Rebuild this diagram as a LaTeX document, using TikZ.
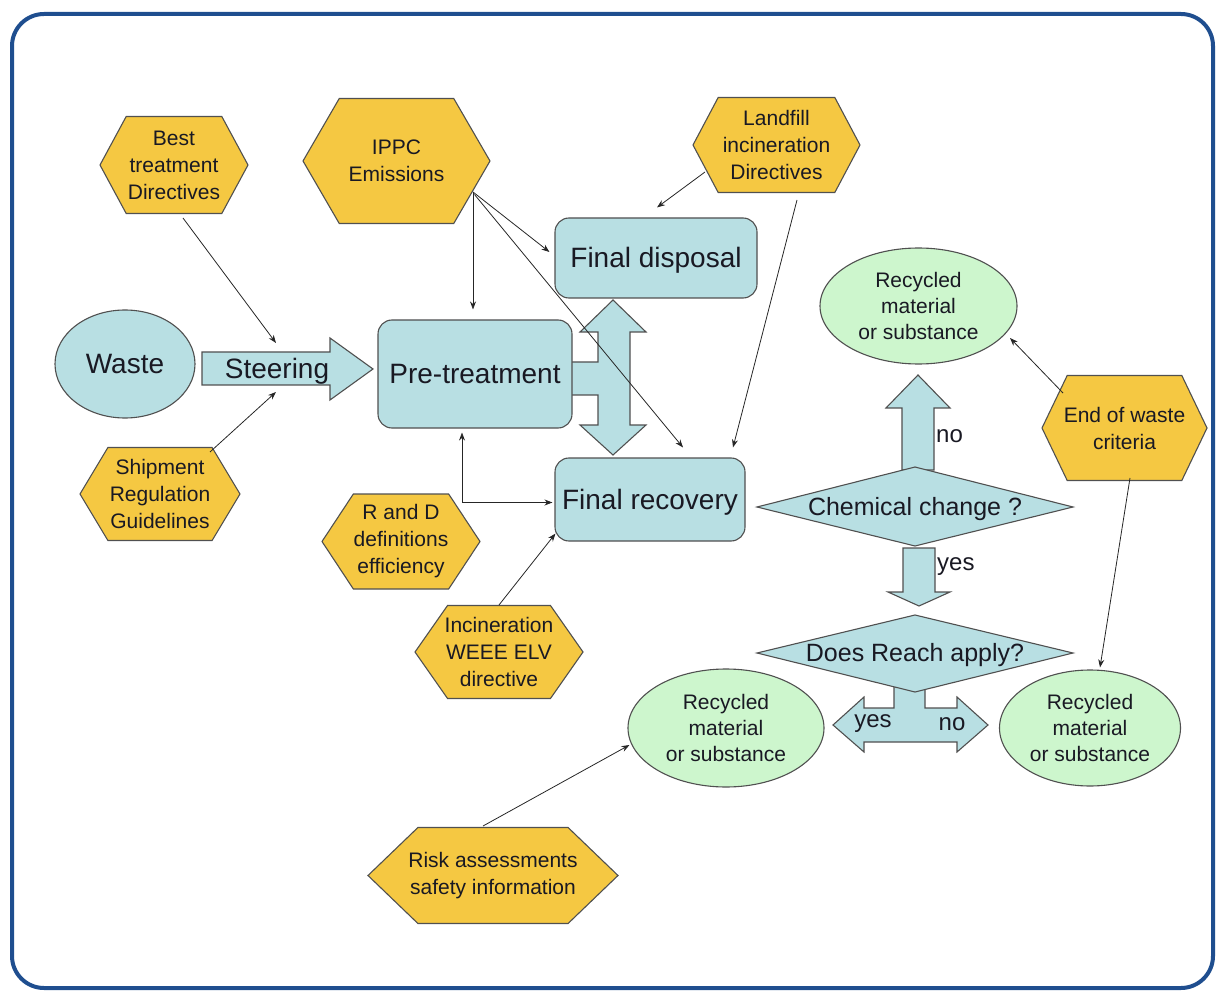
\documentclass[tikz,border=0pt]{standalone}
\usepackage{fontspec}
\setmainfont{Liberation Sans}
\usetikzlibrary{calc,arrows.meta,shapes.geometric}
\definecolor{boxblue}{RGB}{184,223,227}
\definecolor{hexyellow}{RGB}{245,200,66}
\definecolor{recgreen}{RGB}{205,246,205}
\definecolor{frameblue}{RGB}{31,78,143}
\definecolor{linegray}{RGB}{80,80,80}
\definecolor{txt}{RGB}{25,25,35}
\tikzset{
  outl/.style={draw=linegray, line width=1.1pt},
  bluebox/.style={outl, fill=boxblue, rounded corners=14pt, inner sep=0pt, text=txt, font=\fontsize{28}{30}\selectfont, text height=26pt, text depth=6pt},
  blueell/.style={outl, fill=boxblue, ellipse, inner sep=0pt, text=txt, font=\fontsize{28}{30}\selectfont},
  greenell/.style={outl, fill=recgreen, ellipse, inner sep=0pt, align=center, text=txt, font=\fontsize{21}{26}\selectfont},
  hexdraw/.style={outl, fill=hexyellow},
  hextext/.style={align=center, inner sep=0pt, text=txt, font=\fontsize{21}{27}\selectfont},
  blockarrow/.style={outl, fill=boxblue, line join=miter},
  bigtext/.style={inner sep=0pt, text=txt, font=\fontsize{28}{30}\selectfont, text height=26pt, text depth=6pt},
  diatext/.style={inner sep=0pt, text=txt, font=\fontsize{25}{28}\selectfont, text height=22pt, text depth=5pt},
  lbl/.style={inner sep=0pt, text=txt, font=\fontsize{24}{26}\selectfont},
  conn/.style={draw=black!85, line width=0.8pt, -{Stealth[length=8pt,width=6pt]}},
  conn2/.style={draw=black!85, line width=0.8pt, {Stealth[length=8pt,width=6pt]}-{Stealth[length=8pt,width=6pt]}}
}
% #1 inset ratio, #2 name, #3 cx, #4 cy, #5 half width, #6 half height, #7 text
\newcommand\hexnode[7][0.57]{%
  \draw[hexdraw] (#3-#5,#4) -- (#3-#5+#1*#6,#4-#6) -- (#3+#5-#1*#6,#4-#6) -- (#3+#5,#4)
    -- (#3+#5-#1*#6,#4+#6) -- (#3-#5+#1*#6,#4+#6) -- cycle;
  \node[hextext] (#2) at (#3,#4) {#7};
}
\begin{document}
\begin{tikzpicture}[x=1pt,y=-1pt]
\useasboundingbox (0,0) rectangle (1219,992);
% frame
\draw[frameblue, line width=4pt, rounded corners=32pt] (12,14) rectangle (1213,988);

% block arrows
\draw[blockarrow] (202,352) -- (330,352) -- (330,338) -- (373,369) -- (330,400) -- (330,385) -- (202,385) -- cycle;
\node[bigtext] (steer) at (277,369) {Steering};

\draw[blockarrow] (613,300) -- (646,332) -- (630,332) -- (630,425) -- (646,425) -- (613,455)
  -- (580,425) -- (598,425) -- (598,395) -- (570,395) -- (570,362) -- (598,362) -- (598,332) -- (580,332) -- cycle;

\draw[blockarrow] (918,375) -- (950,408) -- (934,408) -- (934,470) -- (902,470) -- (902,408) -- (886,408) -- cycle;
\draw[blockarrow] (903,548) -- (935,548) -- (935,592) -- (950,592) -- (919,606) -- (888,592) -- (903,592) -- cycle;
\draw[blockarrow] (894,680) -- (925,680) -- (925,708) -- (957,708) -- (957,697) -- (988,725) -- (957,752) -- (957,742)
  -- (864,742) -- (864,752) -- (833,725) -- (864,697) -- (864,708) -- (894,708) -- cycle;

% boxes
\node[blueell, minimum width=140pt, minimum height=108pt] (waste) at (125,364) {Waste};
\node[bluebox, minimum width=194pt, minimum height=108pt] (pre) at (475,374) {Pre-treatment};
\node[bluebox, minimum width=202pt, minimum height=80pt] (fd) at (656,258) {Final disposal};
\node[bluebox, minimum width=190pt, minimum height=83pt] (fr) at (650,499.5) {Final recovery};

% diamonds
\draw[outl, fill=boxblue] (757,507) -- (915,467) -- (1073,507) -- (915,546) -- cycle;
\node[diatext] (chem) at (915,507) {Chemical change ?};
\draw[outl, fill=boxblue] (757,653) -- (915,615) -- (1073,653) -- (915,692) -- cycle;
\node[diatext] (reach) at (915,653) {Does Reach apply?};

\node[lbl, anchor=west] (lno1) at (936,436) {no};
\node[lbl, anchor=west] (lyes1) at (937,567) {yes};
\node[lbl] (lyes2) at (873,724) {yes};
\node[lbl] (lno2) at (952,724) {no};

% green ellipses
\node[greenell, minimum width=197pt, minimum height=116pt] (gtop) at (918.5,306) {Recycled\\material\\or substance};
\node[greenell, minimum width=196pt, minimum height=118pt] (gbl) at (726,728) {Recycled\\material\\or substance};
\node[greenell, minimum width=181pt, minimum height=116pt] (gbr) at (1090,728) {Recycled\\material\\or substance};

% hexagons
\hexnode[0.54]{best}{174}{165}{74}{48.5}{Best\\treatment\\Directives}
\hexnode[0.58]{ippc}{396.5}{161}{93.5}{62.5}{IPPC\\Emissions}
\hexnode[0.53]{landfill}{776.5}{145}{83.5}{47.5}{Landfill\\incineration\\Directives}
\hexnode[0.6]{ship}{160}{494}{80}{46.5}{Shipment\\Regulation\\Guidelines}
\hexnode[0.66]{rd}{401}{541.5}{79}{47.5}{R and D\\definitions\\efficiency}
\hexnode[0.7]{weee}{499}{652}{84}{46.5}{Incineration\\WEEE ELV\\directive}
\hexnode[1.04]{risk}{493}{875.5}{125}{48}{Risk assessments\\safety information}
\hexnode[0.48]{eow}{1124.5}{428}{82.5}{52.5}{End of waste\\criteria}

% connectors
\draw[conn] ($(best)+(9,53)$) -- ($(steer)+(-1,-26)$);
\draw[conn] ($(ship)+(50,-42)$) -- ($(steer)+(-1,23)$);
\draw[conn] ($(ippc)+(76.5,31)$) -- ($(pre.north)+(-2,-10)$);
\draw[conn] ($(ippc)+(76.5,31)$) -- ($(fd.west)+(-5,-6)$);
\draw[conn] ($(ippc)+(78,33.5)$) -- ($(fr.north)+(33,-10)$);
\draw[conn] ($(landfill)+(-71.5,27)$) -- ($(fd.north)+(1,-10)$);
\draw[conn] ($(landfill)+(20.5,55)$) -- ($(fr.north)+(83,-10)$);
\draw[conn2] ($(fr.west)+(-2,3)$) -| ($(pre.south)+(-13,4)$);
\draw[conn] ($(weee)+(0,-47)$) -- ($(fr.south west)+(1,-8)$);
\draw[conn] ($(eow)+(-61.5,-35)$) -- ($(gtop)+(91.5,32)$);
\draw[conn] ($(eow)+(5.5,50)$) -- ($(gbr.north)+(10,-2)$);
\draw[conn] ($(risk)+(-10,-49.5)$) -- ($(gbl.west)+(2,17)$);
\end{tikzpicture}
\end{document}
